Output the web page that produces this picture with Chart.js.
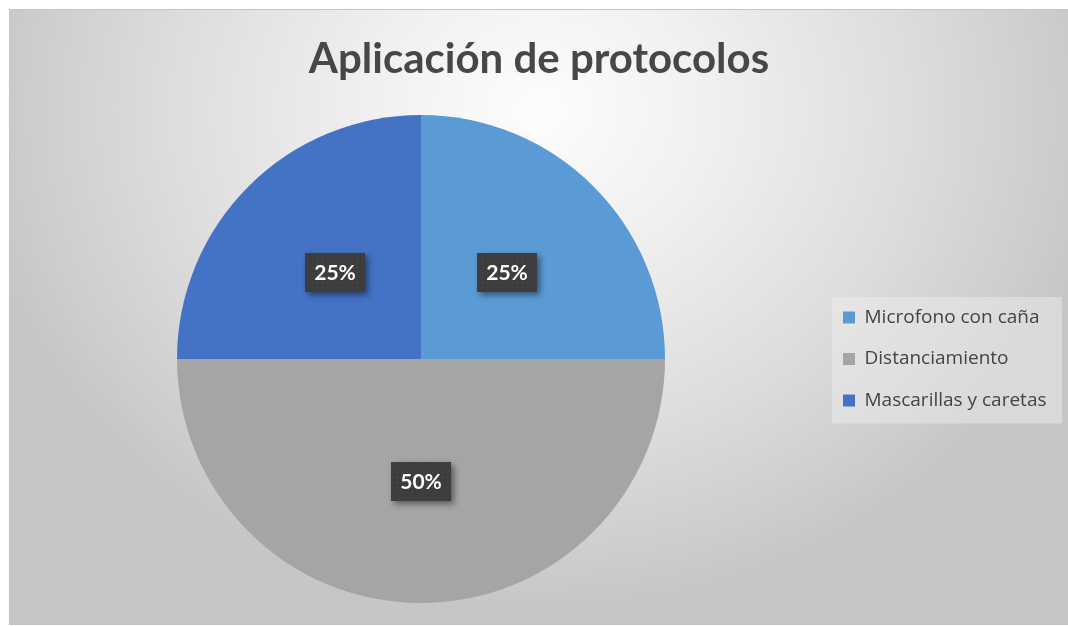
<!DOCTYPE html>
<html>
<head>
<meta charset="utf-8">
<script src="https://cdn.jsdelivr.net/npm/chart.js@4.4.1/dist/chart.umd.min.js"></script>
<style>
  html, body { margin: 0; padding: 0; background: #fff; }
</style>
</head>
<body>
<canvas id="myChart" width="1068" height="626"></canvas>
<script>
const titleText = 'Aplicación de protocolos';
const categories = ['Microfono con caña', 'Distanciamiento', 'Mascarillas y caretas'];
const values = [25, 50, 25];
const sliceColors = ['#5B9BD5', '#A5A5A5', '#4472C4'];

const FONT = 'Lato, "Liberation Sans", sans-serif';
const LEGEND_FONT = '"Open Sans", Lato, sans-serif';
const legendFontSize = 19;
const legendPad = 22.5;
const chartRight = 843 - legendPad;

// measure the legend text so the pie ends up where it should
const mctx = document.createElement('canvas').getContext('2d');
mctx.font = legendFontSize + 'px ' + LEGEND_FONT;
const longest = Math.max(...categories.map((c) => mctx.measureText(c).width));
const legendWidth = legendPad + 12 + legendFontSize / 2 + longest + 10;
const padRight = Math.max(0, 1068 - chartRight - legendWidth);

// dotted texture for the label boxes
const tile = document.createElement('canvas');
tile.width = 5;
tile.height = 5;
const tctx = tile.getContext('2d');
tctx.fillStyle = '#3d3d3d';
tctx.fillRect(0, 0, 5, 5);
tctx.fillStyle = '#4c4c4c';
tctx.fillRect(2, 2, 1, 1);

const ctx = document.getElementById('myChart').getContext('2d');
const dotPattern = ctx.createPattern(tile, 'repeat');

new Chart(ctx, {
  type: 'pie',
  data: {
    labels: categories,
    datasets: [
      {
        data: values,
        backgroundColor: sliceColors,
        borderWidth: 0,
        hoverBorderWidth: 0,
        hoverOffset: 0,
      },
    ],
  },
  options: {
    responsive: false,
    animation: false,
    events: [],
    layout: {
      padding: { left: 842 - chartRight, right: padRight, top: 10, bottom: 23 },
    },
    plugins: {
      title: {
        display: true,
        text: titleText,
        color: '#474747',
        font: { family: FONT, size: 42, weight: 'bold', lineHeight: 1.2 },
        padding: { top: 24, bottom: 30.6 },
      },
      legend: {
        position: 'right',
        fullSize: false,
        labels: {
          boxWidth: 12,
          boxHeight: 12,
          padding: legendPad,
          color: '#444444',
          font: { family: LEGEND_FONT, size: legendFontSize },
        },
      },
      tooltip: { enabled: false },
    },
  },
  plugins: [
    {
      id: 'chart_background',
      beforeDraw: (chart) => {
        const c = chart.ctx;
        c.save();
        c.fillStyle = '#ffffff';
        c.fillRect(0, 0, chart.width, chart.height);
        c.beginPath();
        c.rect(10, 10, 1058, 615);
        c.clip();
        c.translate(540, 110);
        c.scale(1, 500 / 570);
        const g = c.createRadialGradient(0, 0, 0, 0, 0, 570);
        g.addColorStop(0, '#fdfdfd');
        g.addColorStop(0.3, '#f0f0f0');
        g.addColorStop(0.65, '#dddddd');
        g.addColorStop(0.9, '#cdcdcd');
        g.addColorStop(1, '#c6c6c6');
        c.fillStyle = g;
        c.fillRect(-700, -400, 1400, 1100);
        c.restore();

        c.save();
        c.strokeStyle = '#c4c4c4';
        c.lineWidth = 1;
        c.strokeRect(9.5, 9.5, 1070, 615);
        c.restore();

        // legend panel
        const lg = chart.legend;
        if (lg && lg.columnSizes && lg.columnSizes.length) {
          const colH = lg.columnSizes[0].height;
          const top = (lg.top + legendPad + lg.bottom - colH) / 2;
          const x0 = lg.left + legendPad - 11;
          const y0 = top - 11;
          const h = colH - legendPad + 24.5;
          c.save();
          c.fillStyle = 'rgba(240,240,240,0.45)';
          c.fillRect(x0, y0, 230, h);
          c.restore();
        }
      },
    },
    {
      id: 'percent_labels',
      afterDatasetsDraw: (chart) => {
        const c = chart.ctx;
        const total = values.reduce((a, b) => a + b, 0);
        const meta = chart.getDatasetMeta(0);
        meta.data.forEach((arc, i) => {
          const p = arc.tooltipPosition(true);
          const txt = Math.round((values[i] / total) * 100) + '%';
          const w = 60;
          const h = 39;
          const x = Math.round(p.x - w / 2);
          const y = Math.round(p.y - h / 2);
          c.save();
          c.shadowColor = 'rgba(0,0,0,0.45)';
          c.shadowBlur = 6;
          c.shadowOffsetX = 3;
          c.shadowOffsetY = 3;
          c.fillStyle = '#3d3d3d';
          c.fillRect(x, y, w, h);
          c.restore();
          c.save();
          c.fillStyle = dotPattern;
          c.fillRect(x, y, w, h);
          c.fillStyle = '#ffffff';
          c.font = 'bold 21px ' + FONT;
          c.textAlign = 'center';
          c.textBaseline = 'middle';
          c.fillText(txt, x + w / 2, y + h / 2 + 1);
          c.restore();
        });
      },
    },
  ],
});
</script>
</body>
</html>
